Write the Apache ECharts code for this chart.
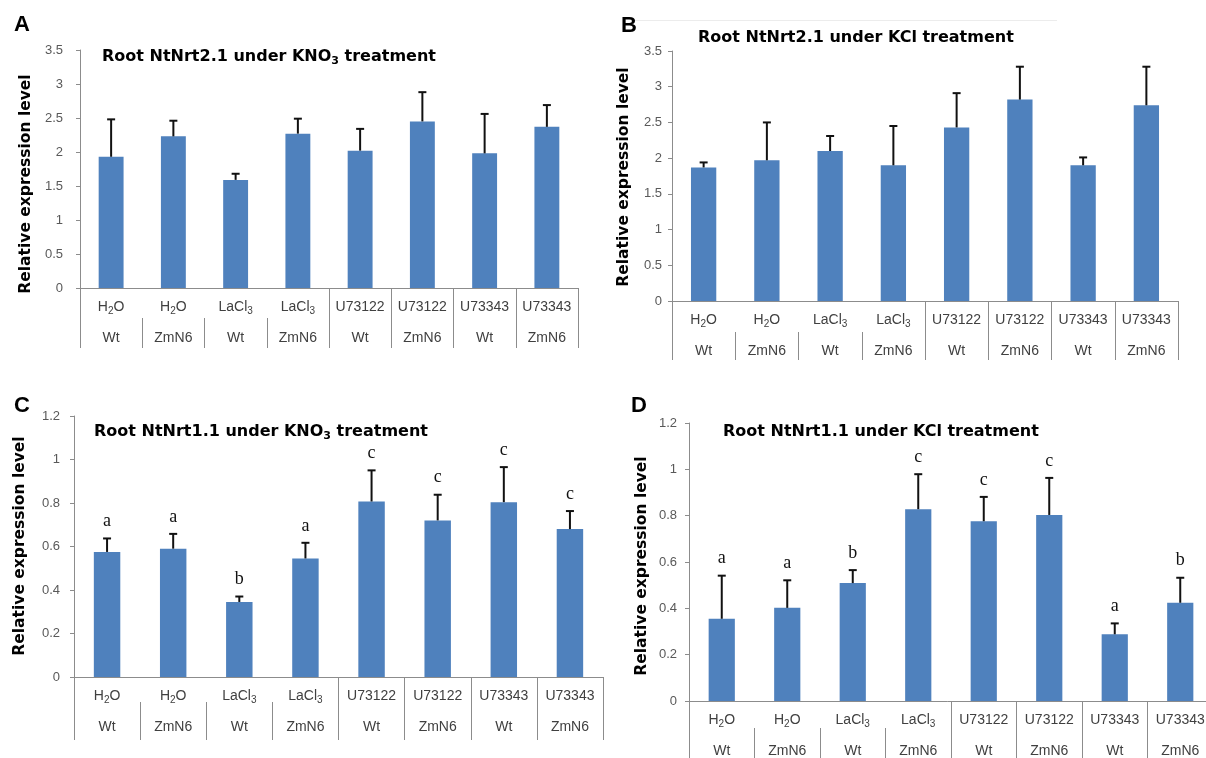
<!DOCTYPE html>
<html>
<head>
<meta charset="utf-8">
<script src="https://cdn.jsdelivr.net/npm/echarts@6/dist/echarts.min.js"></script>
<style>
  html, body { margin: 0; padding: 0; background: #fff; }
  #chart { width: 1206px; height: 758px; }
</style>
</head>
<body>
<div id="chart"></div>
<script>
// categories (two levels)
const treatments = ['H2O', 'H2O', 'LaCl3', 'LaCl3', 'U73122', 'U73122', 'U73343', 'U73343']
const genotypes = ['Wt', 'ZmN6', 'Wt', 'ZmN6', 'Wt', 'ZmN6', 'Wt', 'ZmN6']

// A: root NtNrt2.1, KNO3
const nrt21KNO3Mean = [1.93, 2.23, 1.59, 2.27, 2.02, 2.45, 1.98, 2.37]
const nrt21KNO3Sd = [0.55, 0.23, 0.09, 0.22, 0.32, 0.43, 0.58, 0.32]
// B: root NtNrt2.1, KCl
const nrt21KClMean = [1.87, 1.97, 2.10, 1.90, 2.43, 2.82, 1.90, 2.74]
const nrt21KClSd = [0.07, 0.53, 0.21, 0.55, 0.48, 0.46, 0.11, 0.54]
// C: root NtNrt1.1, KNO3
const nrt11KNO3Mean = [0.575, 0.59, 0.345, 0.545, 0.807, 0.72, 0.804, 0.68]
const nrt11KNO3Sd = [0.062, 0.068, 0.025, 0.072, 0.143, 0.118, 0.161, 0.083]
const nrt11KNO3Letters = ['a', 'a', 'b', 'a', 'c', 'c', 'c', 'c']
// D: root NtNrt1.1, KCl
const nrt11KClMean = [0.355, 0.402, 0.509, 0.828, 0.776, 0.803, 0.288, 0.424]
const nrt11KClSd = [0.186, 0.119, 0.056, 0.151, 0.105, 0.160, 0.047, 0.108]
const nrt11KClLetters = ['a', 'a', 'b', 'c', 'c', 'c', 'a', 'b']

// y tick settings
const nrt21Max = 3.5
const nrt21Step = 0.5
const nrt11Max = 1.2
const nrt11Step = 0.2

const chart = echarts.init(document.getElementById('chart'))

const gray = '#8c8c8c'
const barColor = '#4f81bd'
const sans = '"Liberation Sans", Arial, sans-serif'
const bold = '"DejaVu Sans", sans-serif'

const panels = [
  { mean: nrt21KNO3Mean, sd: nrt21KNO3Sd, letters: null, max: nrt21Max, step: nrt21Step,
    grid: { left: 80, top: 50, width: 498, height: 238 }, labelGap: 17, full: 60, shortOff: 30, shortLen: 30 },
  { mean: nrt21KClMean, sd: nrt21KClSd, letters: null, max: nrt21Max, step: nrt21Step,
    grid: { left: 672, top: 51, width: 506, height: 250 }, labelGap: 10, full: 59, shortOff: 31, shortLen: 28 },
  { mean: nrt11KNO3Mean, sd: nrt11KNO3Sd, letters: nrt11KNO3Letters, max: nrt11Max, step: nrt11Step,
    grid: { left: 74, top: 416, width: 529, height: 261 }, labelGap: 14, full: 63, shortOff: 25, shortLen: 38 },
  { mean: nrt11KClMean, sd: nrt11KClSd, letters: nrt11KClLetters, max: nrt11Max, step: nrt11Step,
    grid: { left: 689, top: 423, width: 524, height: 278 }, labelGap: 12, full: 60, shortOff: 27, shortLen: 33 }
]

const richNames = {
  H2O: '{n|H}{s|2}{n|O}',
  LaCl3: '{n|LaCl}{s|3}'
}

function catLabel(value, index) {
  const t = treatments[index]
  return (richNames[t] || '{n|' + t + '}') + '\n{n|' + genotypes[index] + '}'
}

const fullTick = (i) => i === 0 || i >= 4
const shortTick = (i) => i >= 1 && i <= 3

const grid = []
const xAxis = []
const yAxis = []
const series = []

panels.forEach((p, k) => {
  grid.push(Object.assign({ outerBoundsMode: 'none', containLabel: false }, p.grid))
  xAxis.push({
    type: 'category',
    gridIndex: k,
    data: treatments.map((t, i) => t + ' ' + genotypes[i]),
    axisLine: { lineStyle: { color: gray, width: 1 } },
    axisTick: { show: true, interval: fullTick, length: p.full, lineStyle: { color: gray } },
    axisLabel: {
      interval: 0,
      margin: 4,
      formatter: catLabel,
      rich: {
        n: { fontFamily: sans, fontSize: 14, color: '#404040', lineHeight: 31 },
        s: { fontFamily: sans, fontSize: 10, color: '#404040', padding: [7, 0, 0, 0] }
      }
    }
  })
  xAxis.push({
    type: 'category',
    gridIndex: k,
    position: 'bottom',
    offset: p.shortOff,
    data: treatments.map((t, i) => t + ' ' + genotypes[i]),
    axisLine: { show: false },
    axisTick: { show: true, interval: shortTick, length: p.shortLen, lineStyle: { color: gray } },
    axisLabel: { show: false }
  })
  yAxis.push({
    type: 'value',
    gridIndex: k,
    min: 0,
    max: p.max,
    interval: p.step,
    axisLine: { show: true, lineStyle: { color: gray } },
    axisTick: { show: true, length: 4, lineStyle: { color: gray } },
    splitLine: { show: false },
    axisLabel: { color: '#595959', fontFamily: sans, fontSize: 13, margin: p.labelGap }
  })
  series.push({
    type: 'bar',
    xAxisIndex: k * 2,
    yAxisIndex: k,
    data: p.mean,
    barWidth: '40%',
    itemStyle: { color: barColor },
    silent: true
  })
  const letters = p.letters
  series.push({
    type: 'custom',
    xAxisIndex: k * 2,
    yAxisIndex: k,
    z: 5,
    silent: true,
    data: p.mean.map((m, i) => [i, m, p.sd[i]]),
    renderItem(params, api) {
      const i = api.value(0)
      const base = api.coord([i, api.value(1)])
      const top = api.coord([i, api.value(1) + api.value(2)])
      const style = { stroke: '#111', lineWidth: 2 }
      const children = [
        { type: 'line', shape: { x1: base[0], y1: base[1], x2: base[0], y2: top[1] }, style },
        { type: 'line', shape: { x1: base[0] - 4, y1: top[1], x2: base[0] + 4, y2: top[1] }, style }
      ]
      if (letters) {
        children.push({
          type: 'text',
          x: top[0],
          y: top[1] - 17,
          style: {
            text: letters[params.dataIndex],
            font: '18px "Liberation Serif", "Times New Roman", serif',
            fill: '#111',
            align: 'center',
            verticalAlign: 'middle'
          }
        })
      }
      return { type: 'group', children }
    }
  })
})

// titles, panel letters, y axis names
const titleRich = {
  b: { fontFamily: bold, fontWeight: 'bold', fontSize: 16, color: '#111', lineHeight: 24 },
  s: { fontFamily: bold, fontWeight: 'bold', fontSize: 11, color: '#111', padding: [8, 0, 0, 0] }
}
const titles = [
  { text: '{b|Root NtNrt2.1 under KNO}{s|3}{b| treatment}', x: 102, y: 57 },
  { text: '{b|Root NtNrt2.1 under KCl treatment}', x: 698, y: 38 },
  { text: '{b|Root NtNrt1.1 under KNO}{s|3}{b| treatment}', x: 94, y: 432 },
  { text: '{b|Root NtNrt1.1 under KCl treatment}', x: 723, y: 432 }
]
const panelLetters = [
  { text: 'A', x: 22, y: 25 },
  { text: 'B', x: 629, y: 26 },
  { text: 'C', x: 22, y: 406 },
  { text: 'D', x: 639, y: 406 }
]
const yNames = [
  { x: 26, y: 184 },
  { x: 624, y: 177 },
  { x: 20, y: 546 },
  { x: 642, y: 566 }
]

const graphic = []
graphic.push({
  type: 'rect', shape: { x: 632, y: 20, width: 425, height: 1 },
  style: { fill: '#ececec' }, silent: true
})
titles.forEach((t) => {
  graphic.push({
    type: 'text', x: t.x, y: t.y,
    style: { text: t.text, rich: titleRich, align: 'left', verticalAlign: 'middle' }
  })
})
panelLetters.forEach((t) => {
  graphic.push({
    type: 'text', x: t.x, y: t.y,
    style: { text: t.text, font: 'bold 22px "Liberation Sans", Arial, sans-serif', fill: '#000', align: 'center', verticalAlign: 'middle' }
  })
})
yNames.forEach((t) => {
  graphic.push({
    type: 'text', x: t.x, y: t.y, rotation: Math.PI / 2,
    style: { text: 'Relative expression level', font: 'bold 15.5px "DejaVu Sans", sans-serif', fill: '#000', align: 'center', verticalAlign: 'middle' }
  })
})

chart.setOption({
  backgroundColor: '#fff',
  animation: false,
  grid,
  xAxis,
  yAxis,
  series,
  graphic
})
</script>
</body>
</html>
